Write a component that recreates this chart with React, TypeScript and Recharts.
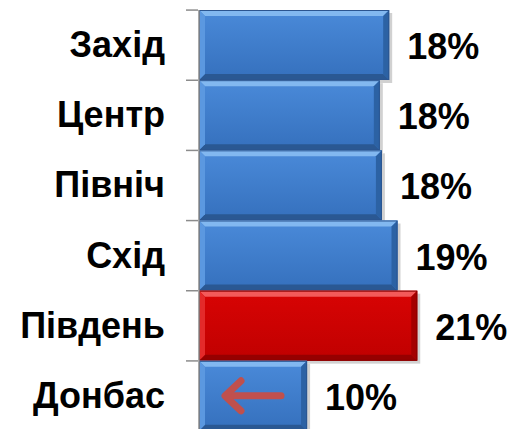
import React from 'react';
import { BarChart, Bar, XAxis, YAxis, LabelList } from 'recharts';

const categories = ['Захід', 'Центр', 'Північ', 'Схід', 'Південь', 'Донбас'];
const shares = [18.3, 17.4, 17.6, 19.1, 21.0, 10.4];
const shareLabels = ['18%', '18%', '18%', '19%', '21%', '10%'];
const highlighted = 'Південь';
const arrowed = 'Донбас';

const data = categories.map((region, i) => ({ region, share: shares[i], label: shareLabels[i] }));

const FONT = 'Arial, "Liberation Sans", sans-serif';

const BLUE = { face1: '#4a8ad9', face2: '#3570bd', top: '#82b8f0', bottom: '#2a5893', left: '#5b98e0', right: '#2c62a4', edge: '#2b5590' };
const RED = { face1: '#d80404', face2: '#c00000', top: '#f35a5a', bottom: '#960000', left: '#e42a2a', right: '#a40000', edge: '#8a0000' };

function BevelBar(props: any) {
  const { x, y, width, height, payload, index } = props;
  if (!width || width <= 0) return null;
  const c = payload.region === highlighted ? RED : BLUE;
  const b = 6;
  const gid = `face${index}`;
  const x2 = x + width;
  const y2 = y + height;
  return (
    <g>
      <defs>
        <linearGradient id={gid} x1="0" y1="0" x2="0" y2="1">
          <stop offset="0%" stopColor={c.face1} />
          <stop offset="100%" stopColor={c.face2} />
        </linearGradient>
      </defs>
      <rect x={x + 3} y={y + 3} width={width} height={height} fill="#000" opacity={0.18} />
      <rect x={x} y={y} width={width} height={height} fill={`url(#${gid})`} />
      <polygon points={`${x},${y} ${x2},${y} ${x2 - b},${y + b} ${x + b},${y + b}`} fill={c.top} />
      <polygon points={`${x},${y2} ${x2},${y2} ${x2 - b},${y2 - b} ${x + b},${y2 - b}`} fill={c.bottom} />
      <polygon points={`${x},${y} ${x + b},${y + b} ${x + b},${y2 - b} ${x},${y2}`} fill={c.left} />
      <polygon points={`${x2},${y} ${x2 - b},${y + b} ${x2 - b},${y2 - b} ${x2},${y2}`} fill={c.right} />
      <rect x={x + 0.5} y={y + 0.5} width={width - 1} height={height - 1} fill="none" stroke={c.edge} strokeWidth={1} />
      {payload.region === arrowed && (
        <g stroke="#c0504d" strokeWidth={7} strokeLinecap="round" strokeLinejoin="round" fill="none">
          <line x1={x + 82} y1={y + height / 2} x2={x + 28} y2={y + height / 2} />
          <polyline points={`${x + 42},${y + height / 2 - 15} ${x + 26},${y + height / 2} ${x + 42},${y + height / 2 + 15}`} />
        </g>
      )}
    </g>
  );
}

function RegionTick(props: any) {
  const { x, y, payload } = props;
  return (
    <g>
      <line x1={x - 5} x2={x + 7} y1={y - 35} y2={y - 35} stroke="#8c8c8c" strokeWidth={1.5} />
      <text x={x - 26} y={y} dy={12} textAnchor="end" fontFamily={FONT} fontWeight="bold" fontSize={36} fill="#000">
        {payload.value}
      </text>
    </g>
  );
}

function ShareLabel(props: any) {
  const { x, y, width, height, value } = props;
  return (
    <text x={x + width + 18} y={y + height / 2} dy={14} textAnchor="start" fontFamily={FONT} fontWeight="bold" fontSize={36} fill="#000">
      {value}
    </text>
  );
}

export default function App() {
  return (
    <div style={{ position: 'absolute', left: 0, top: 0, width: 511, height: 429, overflow: 'hidden', background: '#fff' }}>
      <BarChart
        width={511}
        height={431}
        data={data}
        layout="vertical"
        margin={{ top: 10, right: 21, bottom: 0, left: 0 }}
        barCategoryGap={0}
      >
        <XAxis type="number" domain={[0, 28]} hide />
        <YAxis
          type="category"
          dataKey="region"
          width={199}
          axisLine={{ stroke: '#8c8c8c', strokeWidth: 1.5 }}
          tickLine={false}
          tick={<RegionTick />}
          interval={0}
        />
        <Bar dataKey="share" isAnimationActive={false} shape={<BevelBar />}>
          <LabelList dataKey="label" content={<ShareLabel />} />
        </Bar>
      </BarChart>
    </div>
  );
}
